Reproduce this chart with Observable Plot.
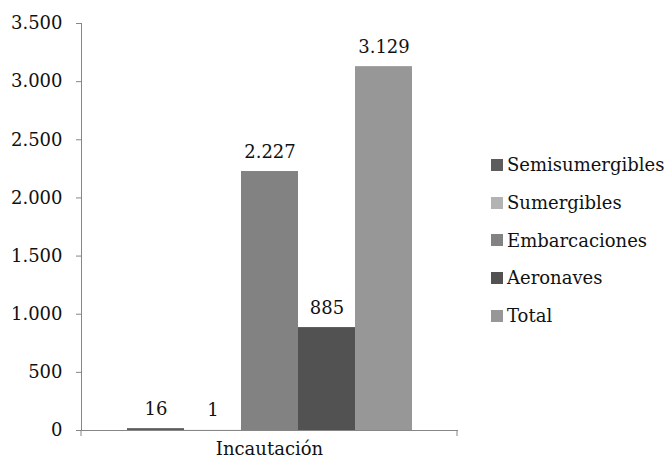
<!DOCTYPE html>
<html>
<head>
<meta charset="utf-8">
<script src="https://cdn.jsdelivr.net/npm/d3@7"></script>
<script src="https://cdn.jsdelivr.net/npm/@observablehq/plot@0.6"></script>
<style>
  html, body { margin: 0; padding: 0; background: #fff; }
  #wrap { position: relative; width: 666px; height: 464px; font-family: "DejaVu Serif", serif; color: #111; }
  #legend { position: absolute; left: 491px; top: 146px; font-size: 18px; }
  .item { height: 37.7px; display: flex; align-items: center; white-space: nowrap; }
  .sw { width: 12px; height: 12px; margin-right: 4px; flex: none; }
</style>
</head>
<body>
<div id="wrap"><div id="legend"></div></div>
<script>
const categories = ["Incautación"];
const series = ["Semisumergibles", "Sumergibles", "Embarcaciones", "Aeronaves", "Total"];
const values = [16, 1, 2227, 885, 3129];
const colors = ["#5c5c5c", "#b3b3b3", "#828282", "#525252", "#979797"];
const yTicks = [0, 500, 1000, 1500, 2000, 2500, 3000, 3500];

const data = series.map((s, i) => ({category: categories[0], series: s, value: values[i]}));
const fmt = d => d3.format(",")(d).replace(/,/g, ".");

const axisColor = "#868686";
const textColor = "#111";
const fontSize = 18;

const endTicks = (index, scales, vals, dims) => {
  const g = d3.create("svg:g").attr("stroke", axisColor);
  const y0 = scales.y(0);
  for (const x of [dims.marginLeft, dims.width - dims.marginRight]) {
    g.append("line").attr("x1", x).attr("x2", x).attr("y1", y0).attr("y2", y0 + 6);
  }
  return g.node();
};

const chart = Plot.plot({
  width: 666,
  height: 464,
  marginLeft: 81,
  marginRight: 209,
  marginTop: 23,
  marginBottom: 34,
  style: {fontFamily: "'DejaVu Serif', serif", fontSize: fontSize + "px", color: textColor, background: "transparent"},
  fx: {domain: categories, padding: 0, label: null, tickSize: 0, tickPadding: 12},
  x: {domain: series, axis: null, paddingInner: 0, paddingOuter: 0.77},
  y: {domain: [0, 3500], label: null},
  color: {domain: series, range: colors},
  marks: [
    Plot.axisY({ticks: yTicks, tickFormat: fmt, tickSize: 5, tickPadding: 14, stroke: axisColor, fill: textColor, label: null, fontSize}),
    Plot.frame({anchor: "left", stroke: axisColor}),
    Plot.barY(data, {fx: "category", x: "series", y: "value", fill: "series"}),
    Plot.frame({anchor: "bottom", stroke: axisColor}),
    endTicks,
    Plot.text(data, {fx: "category", x: "series", y: "value", text: d => fmt(d.value), lineAnchor: "bottom", dy: -14, fill: textColor, fontSize})
  ]
});
document.getElementById("wrap").prepend(chart);

const legend = d3.select("#legend");
series.forEach((s, i) => {
  const it = legend.append("div").attr("class", "item");
  it.append("div").attr("class", "sw").style("background", colors[i]);
  it.append("span").text(s);
});
</script>
</body>
</html>
